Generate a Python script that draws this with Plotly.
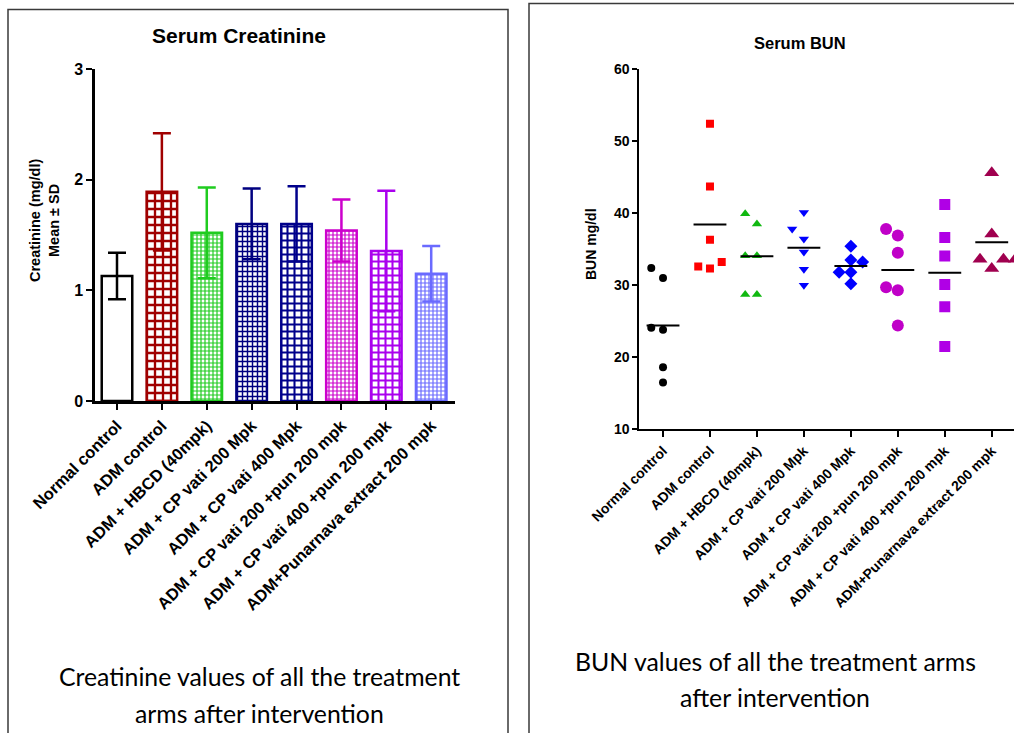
import numpy as np
import plotly.graph_objects as go

W, H = 1014, 733

# ---- data -------------------------------------------------------------
groups = [
    "Normal control",
    "ADM control",
    "ADM + HBCD (40mpk)",
    "ADM + CP vati 200 Mpk",
    "ADM + CP vati 400 Mpk",
    "ADM + CP vati 200 +pun 200 mpk",
    "ADM + CP vati 400 +pun 200 mpk",
    "ADM+Punarnava extract 200 mpk",
]

# Serum creatinine (mg/dl), mean and SD per group
creat_mean = [1.13, 1.89, 1.52, 1.60, 1.60, 1.54, 1.355, 1.15]
creat_sd = [0.21, 0.53, 0.41, 0.32, 0.34, 0.28, 0.545, 0.25]

# Serum BUN (mg/dl), individual animals per group
bun_normal = [32.4, 31.0, 23.8, 24.1, 18.6, 16.5]
bun_adm = [52.4, 43.7, 36.3, 33.2, 32.3, 32.6]
bun_hbcd = [34.1, 34.1, 38.5, 39.9, 28.7, 28.7]
bun_cp200 = [37.8, 40.1, 36.4, 34.6, 32.2, 30.0]
bun_cp400 = [35.4, 33.5, 33.2, 31.8, 31.8, 30.2]
bun_cp200_pun = [37.8, 36.9, 34.5, 29.7, 29.3, 24.4]
bun_cp400_pun = [41.2, 36.6, 34.05, 30.1, 27.0, 21.5]
bun_punarnava = [45.6, 37.1, 33.6, 33.6, 33.6, 32.3]
bun_values = [bun_normal, bun_adm, bun_hbcd, bun_cp200, bun_cp400,
              bun_cp200_pun, bun_cp400_pun, bun_punarnava]

creat_ticks = [0, 1, 2, 3]
bun_ticks = [10, 20, 30, 40, 50, 60]

# ---- styles -----------------------------------------------------------
bar_edge = ["#000000", "#a00000", "#1fcc1f", "#000080",
            "#00008b", "#cc00cc", "#aa00ee", "#6a6aff"]
bar_fill = ["#ffffff"] * 8
bar_pattern = ["", "+", "+", "+", "+", "+", "+", "+"]
bar_pattern_size = [6, 8, 4, 5, 7, 4, 7, 4]

pt_color = ["#000000", "#ff0000", "#10b810", "#0000ff",
            "#0000ff", "#c000c8", "#b000e6", "#a0004f"]
pt_symbol = ["circle", "square", "triangle-up", "triangle-down",
             "diamond", "circle", "square", "triangle-up"]
pt_size = [8, 8, 9, 9, 10, 12, 11, 13]

FONT = "Liberation Sans, Arial, sans-serif"
CAPTION_FONT = "Lato, Carlito, sans-serif"


def px(x):
    return x / W


def py(y):
    return 1 - y / H


def spread(vals, thresh=1.5, step=0.25):
    """Column-scatter offsets: points that would overlap are pushed sideways."""
    vals = np.asarray(vals, dtype=float)
    offs = np.zeros(len(vals))
    slots = {}
    for i in np.argsort(vals, kind="stable"):
        for s in (0, -1, 1, 2, -2):
            taken = slots.get(s, [])
            if all(abs(vals[i] - vals[j]) >= thresh for j in taken):
                slots.setdefault(s, []).append(i)
                offs[i] = s * step
                break
    return offs


fig = go.Figure()
xpos = np.arange(len(groups))

# ---- Serum creatinine bars ---------------------------------------------
for i, g in enumerate(groups):
    fig.add_trace(go.Bar(
        x=[xpos[i]], y=[creat_mean[i]], width=0.68, name=g,
        marker=dict(
            color=bar_fill[i],
            line=dict(color=bar_edge[i], width=2.5),
            pattern=dict(shape=bar_pattern[i], size=bar_pattern_size[i],
                         solidity=0.5, fgcolor=bar_edge[i], bgcolor="#ffffff",
                         fillmode="replace"),
        ),
        error_y=dict(type="data", array=[creat_sd[i]], color=bar_edge[i],
                     thickness=2.5, width=9),
        xaxis="x", yaxis="y", showlegend=False,
    ))

# ---- Serum BUN scatter ----------------------------------------------------
mx, my = [], []
for i, vals in enumerate(bun_values):
    fig.add_trace(go.Scatter(
        x=xpos[i] + spread(vals), y=vals, mode="markers", name=groups[i],
        marker=dict(symbol=pt_symbol[i], size=pt_size[i], color=pt_color[i],
                    line=dict(width=0)),
        xaxis="x2", yaxis="y2", showlegend=False,
    ))
    m = float(np.mean(vals))
    mx += [xpos[i] - 0.35, xpos[i] + 0.35, None]
    my += [m, m, None]

fig.add_trace(go.Scatter(x=mx, y=my, mode="lines",
                         line=dict(color="#000000", width=2),
                         xaxis="x2", yaxis="y2", showlegend=False))

axis_common = dict(showline=True, linecolor="#000000", ticks="outside",
                   tickcolor="#000000", showgrid=False, zeroline=False,
                   fixedrange=True, automargin=False)

fig.update_layout(
    template="none",
    width=W, height=H, autosize=False,
    margin=dict(l=0, r=0, t=0, b=0, pad=0),
    paper_bgcolor="#ffffff", plot_bgcolor="rgba(0,0,0,0)",
    barmode="overlay", showlegend=False,
    xaxis=dict(domain=[px(95), px(455)], range=[-0.49, 7.53],
               tickvals=list(xpos), ticktext=groups, tickangle=-45,
               linewidth=2.5, tickwidth=2, ticklen=6,
               tickfont=dict(family=FONT, size=16.5, color="#000000", weight="bold"),
               anchor="y", **axis_common),
    yaxis=dict(domain=[py(401), py(69)], range=[0, 3], tickvals=creat_ticks,
               linewidth=2.5, tickwidth=2, ticklen=6,
               tickfont=dict(family=FONT, size=16, color="#000000", weight="bold"),
               anchor="x", **axis_common),
    xaxis2=dict(domain=[px(639.3), 1.0], range=[-0.505, 7.474],
                tickvals=list(xpos), ticktext=groups, tickangle=-45,
                linewidth=2, tickwidth=2, ticklen=6,
                tickfont=dict(family=FONT, size=14, color="#000000", weight="bold"),
                anchor="y2", **axis_common),
    yaxis2=dict(domain=[py(429.3), py(69)], range=[10, 60], tickvals=bun_ticks,
                linewidth=2, tickwidth=2, ticklen=5,
                tickfont=dict(family=FONT, size=14, color="#000000", weight="bold"),
                anchor="x2", **axis_common),
)

# panel frames
frame = dict(color="#3a3a3a", width=1.5)
fig.add_shape(type="path", xref="paper", yref="paper",
              path=f"M {px(8)} {py(760)} L {px(8)} {py(9.5)} L {px(508)} {py(9.5)} L {px(508)} {py(760)}",
              line=frame)
fig.add_shape(type="path", xref="paper", yref="paper",
              path=f"M {px(529)} {py(760)} L {px(529)} {py(3.5)} L {px(1030)} {py(3.5)}",
              line=frame)


def note(text, x, y, size, family=FONT, bold=True, angle=0):
    fig.add_annotation(text=text, xref="paper", yref="paper", x=px(x), y=py(y),
                       xanchor="center", yanchor="middle", showarrow=False,
                       textangle=angle,
                       font=dict(family=family, size=size, color="#000000",
                                 weight="bold" if bold else "normal"))


# titles
note("Serum Creatinine", 239, 36, 21)
note("Serum BUN", 800, 43, 16.5)

# axis titles
note("Creatinine (mg/dl)<br>Mean ± SD", 44, 221, 14.5, angle=-90)
note("BUN mg/dl", 591, 244, 14, angle=-90)

# captions
note("Creatinine values of all the treatment", 259, 676, 24.8, CAPTION_FONT, bold=False)
note("arms after intervention", 259, 713, 24.8, CAPTION_FONT, bold=False)
note("BUN values of all the treatment arms", 775, 661, 24.8, CAPTION_FONT, bold=False)
note("after intervention", 775, 697, 24.8, CAPTION_FONT, bold=False)

fig.write_html("out.html")
